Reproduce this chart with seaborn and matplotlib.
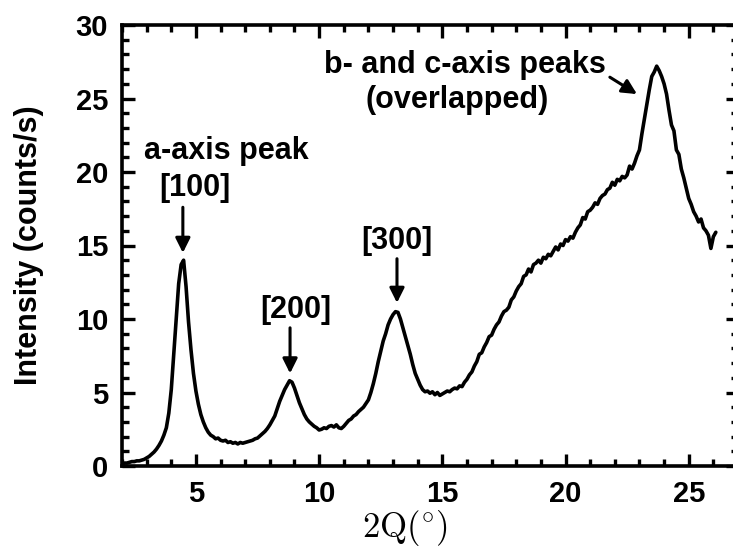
import numpy as np
import pandas as pd
import matplotlib
matplotlib.use("Agg")
import matplotlib.pyplot as plt
import seaborn as sns
from matplotlib.ticker import MultipleLocator, FixedLocator

# ---- data ----
two_theta = [round(2.0 + 0.1 * i, 1) for i in range(242)]
intensity = [
    0.15, 0.2, 0.2, 0.25, 0.3, 0.3, 0.35, 0.35, 0.4, 0.45,            # 2.0-2.9
    0.55, 0.65, 0.8, 0.95, 1.15, 1.4, 1.7, 2.1, 2.6, 3.6,             # 3.0-3.9
    5.2, 7.6, 9.9, 12.4, 13.7, 14.0, 12.2, 9.8, 7.9, 6.3,             # 4.0-4.9
    5.1, 4.2, 3.5, 3.0, 2.6, 2.3, 2.1, 2.0, 1.85, 1.9,                # 5.0-5.9
    1.75, 1.7, 1.75, 1.6, 1.65, 1.55, 1.6, 1.5, 1.6, 1.55,            # 6.0-6.9
    1.6, 1.65, 1.7, 1.75, 1.85, 1.9, 2.05, 2.2, 2.35, 2.55,           # 7.0-7.9
    2.8, 3.1, 3.4, 3.9, 4.4, 4.8, 5.2, 5.5, 5.8, 5.7,                 # 8.0-8.9
    5.3, 4.8, 4.3, 3.9, 3.5, 3.2, 3.0, 2.85, 2.7, 2.6,                # 9.0-9.9
    2.45, 2.5, 2.6, 2.55, 2.7, 2.75, 2.65, 2.8, 2.6, 2.55,            # 10.0-10.9
    2.7, 2.9, 3.1, 3.2, 3.4, 3.5, 3.7, 3.85, 4.0, 4.25,               # 11.0-11.9
    4.5, 5.0, 5.6, 6.3, 7.1, 7.8, 8.5, 9.0, 9.6, 10.0,                # 12.0-12.9
    10.3, 10.5, 10.45, 10.0, 9.4, 8.8, 8.2, 7.6, 6.9, 6.3,            # 13.0-13.9
    5.9, 5.5, 5.2, 5.05, 5.1, 4.95, 5.05, 4.85, 5.0, 4.8,             # 14.0-14.9
    4.9, 5.0, 5.1, 5.05, 5.2, 5.3, 5.25, 5.45, 5.4, 5.7,              # 15.0-15.9
    5.9, 6.2, 6.4, 6.8, 7.1, 7.6, 7.7, 8.1, 8.4, 8.8,                 # 16.0-16.9
    8.9, 9.3, 9.6, 9.8, 10.2, 10.5, 10.6, 10.8, 11.3, 11.5,           # 17.0-17.9
    11.9, 12.2, 12.4, 12.9, 13.0, 13.4, 13.2, 13.7, 13.8, 14.0,       # 18.0-18.9
    13.8, 14.2, 14.1, 14.4, 14.3, 14.6, 14.9, 14.7, 15.1, 15.0,       # 19.0-19.9
    15.4, 15.3, 15.6, 15.5, 15.9, 16.2, 16.4, 16.9, 16.8, 17.3,       # 20.0-20.9
    17.4, 17.6, 17.9, 17.8, 18.2, 18.4, 18.5, 18.8, 18.9, 19.3,       # 21.0-21.9
    19.1, 19.5, 19.4, 19.7, 19.6, 19.8, 20.4, 20.2, 20.6, 21.1,       # 22.0-22.9
    21.5, 22.6, 23.6, 24.6, 25.6, 26.5, 26.8, 27.2, 26.9, 26.5,       # 23.0-23.9
    26.0, 25.3, 24.2, 23.2, 22.8, 21.5, 21.2, 20.2, 19.6, 18.9,       # 24.0-24.9
    18.2, 17.8, 17.3, 17.0, 16.6, 16.8, 16.2, 16.0, 15.7, 14.8,       # 25.0-25.9
    15.6, 15.9,                                                        # 26.0-26.1
]

peak_labels = ["[100]", "[200]", "[300]"]
peak_pos = [4.47, 8.82, 13.16]
peak_label_x = [4.96, 9.06, 13.16]
peak_label_y = [18.9, 10.6, 15.3]
arrow_tail_y = [17.6, 9.4, 14.1]
arrow_tip_y = [14.5, 6.3, 11.1]

x_ticks = [5, 10, 15, 20, 25]
y_ticks = [0, 5, 10, 15, 20, 25, 30]

df = pd.DataFrame({"two_theta": two_theta, "intensity": intensity})

sns.set_theme(style="ticks")
plt.rcParams["font.family"] = ["Liberation Sans", "DejaVu Sans"]
plt.rcParams["font.weight"] = "bold"
plt.rcParams["mathtext.fontset"] = "cm"
for k in ["text.color", "axes.labelcolor", "xtick.color", "ytick.color",
          "axes.edgecolor", "xtick.labelcolor", "ytick.labelcolor"]:
    plt.rcParams[k] = "black"
for a in ["xtick", "ytick"]:
    plt.rcParams[f"{a}.direction"] = "in"
    plt.rcParams[f"{a}.minor.visible"] = True
    plt.rcParams[f"{a}.minor.size"] = 5.2
    plt.rcParams[f"{a}.minor.width"] = 2.4
    plt.rcParams[f"{a}.major.size"] = 9
    plt.rcParams[f"{a}.major.width"] = 2.4
plt.rcParams["xtick.top"] = True
plt.rcParams["ytick.right"] = True

W, H = 733, 551
fig = plt.figure(figsize=(W / 100, H / 100), dpi=100)
ax = fig.add_axes([122 / W, (H - 466) / H, 616 / W, 441 / H])

sns.lineplot(data=df, x="two_theta", y="intensity", ax=ax, color="black",
             linewidth=2.6, estimator=None, sort=False)

ax.set_xlim(2, 27)
ax.set_ylim(0, 30)
ax.xaxis.set_major_locator(FixedLocator(x_ticks))
ax.yaxis.set_major_locator(FixedLocator(y_ticks))
ax.xaxis.set_minor_locator(MultipleLocator(1))
ax.yaxis.set_minor_locator(MultipleLocator(1))
ax.tick_params(which="both", direction="in", top=True, right=True,
               bottom=True, left=True, color="black")
ax.tick_params(which="major", length=9, width=2.4, pad=10, labelsize=21,
               labelcolor="black")
ax.tick_params(which="minor", length=5.2, width=2.4)
for lab in ax.get_xticklabels() + ax.get_yticklabels():
    lab.set_fontweight("bold")
for s in ax.spines.values():
    s.set_linewidth(2.6)
    s.set_color("black")
ax.set_xlabel("")
ax.set_ylabel("")

fs = 22
fig.text(29 / W, (H - 245) / H, "Intensity (counts/s)", rotation=90,
         ha="center", va="center", fontsize=fs, fontweight="bold")
fig.text(405 / W, (H - 537) / H, r"$\mathrm{2Q(}^{\circ}\mathrm{)}$",
         ha="center", va="baseline", fontsize=25)

ax.text(6.22, 21.4, "a-axis peak", ha="center", va="center", fontsize=fs,
        fontweight="bold")
for lab, px, lx, ly, ty, hy in zip(peak_labels, peak_pos, peak_label_x,
                                   peak_label_y, arrow_tail_y, arrow_tip_y):
    ax.text(lx, ly, lab, ha="center", va="center",
            fontsize=fs, fontweight="bold")
    ax.annotate("", xy=(px, hy), xytext=(px, ty),
                arrowprops=dict(arrowstyle="-|>", color="black", lw=2.2,
                                mutation_scale=22, shrinkA=0, shrinkB=0))

ax.text(15.9, 27.3, "b- and c-axis peaks", ha="center", va="center",
        fontsize=fs, fontweight="bold")
ax.text(15.6, 24.9, "(overlapped)", ha="center", va="center",
        fontsize=fs, fontweight="bold")
ax.annotate("", xy=(22.9, 25.3), xytext=(21.8, 26.45),
            arrowprops=dict(arrowstyle="-|>", color="black", lw=2.2,
                            mutation_scale=22, shrinkA=0, shrinkB=0))

fig.canvas.draw()
mt = ax.yaxis.get_minor_ticks()
if not mt or not mt[1].tick1line.get_visible() or mt[1].tick1line.get_markersize() == 0:
    raise SystemExit(str([ax.yaxis.get_minorticklocs().tolist(), len(mt),
                          [(t.tick1line.get_visible(), t.tick1line.get_markersize()) for t in mt[:3]]]))

fig.savefig("out.png", dpi=100)
